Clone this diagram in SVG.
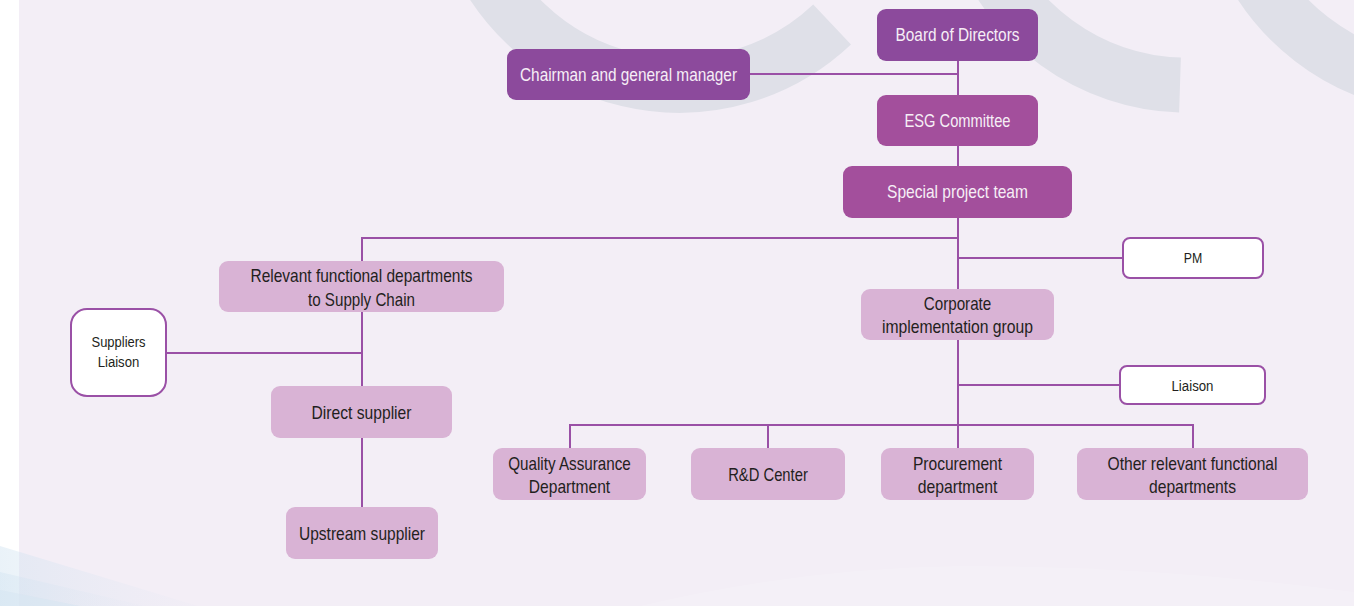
<svg xmlns="http://www.w3.org/2000/svg" width="1354" height="606" viewBox="0 0 1354 606">
<defs>
<style>
.bg{fill:#f3eef6}
.ring{fill:none;stroke:#dfe0e8;stroke-width:55}
.dk{fill:#8c4a9c}
.md{fill:#a34f9c}
.lt{fill:#d9b3d5}
.wb{fill:#ffffff;stroke:#9a50a6;stroke-width:2}
.ln{fill:none;stroke:#9a50a6;stroke-width:2}
text{font-family:"Liberation Sans Narrow","Arial Narrow","Liberation Sans",Arial,sans-serif;text-anchor:middle}
.tw{fill:#f6eef6;font-size:18.5px}
.tb{fill:#231f20;font-size:18.5px}
.ts{fill:#231f20;font-size:15.5px}
</style>
<linearGradient id="blue" x1="0" y1="0" x2="1" y2="0">
<stop offset="0" stop-color="#cfe2f0" stop-opacity="0.8"/>
<stop offset="1" stop-color="#dfe6f2" stop-opacity="0.15"/>
</linearGradient>
</defs>
<g id="background">
<rect x="0" y="0" width="1354" height="606" fill="#ffffff"/>
<rect class="bg" x="19" y="0" width="1335" height="606"/>
<path class="ring" d="M 832.1 24.5 A 222.5 222.5 0 0 1 470 -61.6"/>
<path class="ring" d="M 1180 85 A 222.5 222.5 0 0 1 978 -61.6"/>
<path class="ring" d="M 1640 -26 A 222.5 222.5 0 0 1 1238 -61.6"/>
<polygon points="0,546 198,606 0,606" fill="url(#blue)" opacity="0.55"/>
<polygon points="0,572 145,606 0,606" fill="url(#blue)" opacity="0.5"/>
<polygon points="0,590 80,606 0,606" fill="#d6e6f2" opacity="0.5"/>
<path d="M 640 606 Q 800 568 960 566 Q 1160 566 1354 592 L 1354 606 Z" fill="#ffffff" opacity="0.15"/>
</g>
<g id="connectors">
<line class="ln" x1="958" y1="61" x2="958" y2="426"/>
<line class="ln" x1="750" y1="74" x2="958" y2="74"/>
<polyline class="ln" points="958,238 362,238 362,261"/>
<line class="ln" x1="958" y1="258" x2="1123" y2="258"/>
<line class="ln" x1="362" y1="312" x2="362" y2="386"/>
<line class="ln" x1="166" y1="353" x2="362" y2="353"/>
<line class="ln" x1="362" y1="438" x2="362" y2="507"/>
<line class="ln" x1="958" y1="385" x2="1120" y2="385"/>
<polyline class="ln" points="570,448 570,425 1193,425 1193,448"/>
<line class="ln" x1="768" y1="425" x2="768" y2="448"/>
<line class="ln" x1="958" y1="425" x2="958" y2="448"/>
</g>
<g id="board">
<rect class="dk" x="877" y="9" width="161" height="52" rx="9"/>
<text class="tw" x="957.5" y="41" textLength="124" lengthAdjust="spacingAndGlyphs">Board of Directors</text>
</g>
<g id="chairman">
<rect class="dk" x="507" y="49" width="243" height="51" rx="9"/>
<text class="tw" x="628.5" y="81" textLength="217" lengthAdjust="spacingAndGlyphs">Chairman and general manager</text>
</g>
<g id="esg">
<rect class="md" x="877" y="95" width="161" height="51" rx="9"/>
<text class="tw" x="957.5" y="127" textLength="106" lengthAdjust="spacingAndGlyphs">ESG Committee</text>
</g>
<g id="special">
<rect class="md" x="843" y="166" width="229" height="52" rx="9"/>
<text class="tw" x="957.5" y="198" textLength="141" lengthAdjust="spacingAndGlyphs">Special project team</text>
</g>
<g id="pm">
<rect class="wb" x="1123" y="238" width="140" height="40" rx="7"/>
<text class="ts" x="1193" y="263" textLength="18.5" lengthAdjust="spacingAndGlyphs">PM</text>
</g>
<g id="relevant">
<rect class="lt" x="219" y="261" width="285" height="51" rx="9"/>
<text class="tb" x="361.5" y="282" textLength="222" lengthAdjust="spacingAndGlyphs">Relevant functional departments</text>
<text class="tb" x="361.5" y="305.5" textLength="107" lengthAdjust="spacingAndGlyphs">to Supply Chain</text>
</g>
<g id="corporate">
<rect class="lt" x="861" y="289" width="193" height="51" rx="9"/>
<text class="tb" x="957.5" y="310" textLength="67.5" lengthAdjust="spacingAndGlyphs">Corporate</text>
<text class="tb" x="957.5" y="333" textLength="151" lengthAdjust="spacingAndGlyphs">implementation group</text>
</g>
<g id="suppliers-liaison">
<rect class="wb" x="71" y="309" width="95" height="87" rx="16"/>
<text class="ts" x="118.5" y="347" textLength="54" lengthAdjust="spacingAndGlyphs">Suppliers</text>
<text class="ts" x="118.5" y="367" textLength="41.7" lengthAdjust="spacingAndGlyphs">Liaison</text>
</g>
<g id="direct">
<rect class="lt" x="271" y="386" width="181" height="52" rx="9"/>
<text class="tb" x="361.5" y="419" textLength="100" lengthAdjust="spacingAndGlyphs">Direct supplier</text>
</g>
<g id="upstream">
<rect class="lt" x="286" y="507" width="152" height="52" rx="9"/>
<text class="tb" x="362" y="540" textLength="126" lengthAdjust="spacingAndGlyphs">Upstream supplier</text>
</g>
<g id="liaison">
<rect class="wb" x="1120" y="366" width="145" height="38" rx="7"/>
<text class="ts" x="1192.5" y="391" textLength="42" lengthAdjust="spacingAndGlyphs">Liaison</text>
</g>
<g id="qa">
<rect class="lt" x="493" y="448" width="153" height="52" rx="9"/>
<text class="tb" x="569.5" y="470" textLength="122.6" lengthAdjust="spacingAndGlyphs">Quality Assurance</text>
<text class="tb" x="569.5" y="493" textLength="81.4" lengthAdjust="spacingAndGlyphs">Department</text>
</g>
<g id="rd">
<rect class="lt" x="691" y="448" width="154" height="52" rx="9"/>
<text class="tb" x="768" y="481" textLength="79.7" lengthAdjust="spacingAndGlyphs">R&amp;D Center</text>
</g>
<g id="procurement">
<rect class="lt" x="881" y="448" width="153" height="52" rx="9"/>
<text class="tb" x="957.5" y="470" textLength="89.2" lengthAdjust="spacingAndGlyphs">Procurement</text>
<text class="tb" x="957.5" y="493" textLength="79.7" lengthAdjust="spacingAndGlyphs">department</text>
</g>
<g id="other">
<rect class="lt" x="1077" y="448" width="231" height="52" rx="9"/>
<text class="tb" x="1192.5" y="470" textLength="170" lengthAdjust="spacingAndGlyphs">Other relevant functional</text>
<text class="tb" x="1192.5" y="493" textLength="87" lengthAdjust="spacingAndGlyphs">departments</text>
</g>
</svg>
